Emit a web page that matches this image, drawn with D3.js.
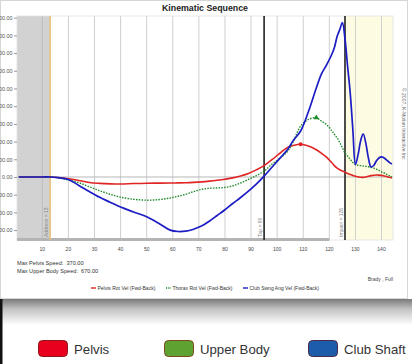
<!DOCTYPE html>
<html><head><meta charset="utf-8">
<script src="https://cdn.jsdelivr.net/npm/d3@7"></script>
<style>body{margin:0;background:#fff;} svg{display:block;font-family:"Liberation Sans",Arial,sans-serif;}</style>
</head><body><svg id="c" width="412" height="364"></svg>
<script>
const frames = [1,5,10,13,16,20,24,28,32,36,40,45,50,55,59,62,65,68,71,74,77,80,83,86,89,92,95,98,101,104,106,109,112,115,117,119,121,122,123,124,125,126,127,128,129,130,131,132,133,134,135,136,137,138,139,140,141,142,143,144];
const pelvis = [0,0,0,0,-5,-20,-40,-62,-72,-78,-80,-74,-70,-69,-68,-67,-65,-61,-55,-47,-37,-25,-10,12,40,80,128,195,268,335,355,370,350,308,268,222,160,125,100,82,68,55,40,28,18,8,2,-3,-4,0,8,15,20,22,21,18,12,5,-3,-10];
const thorax = [0,0,0,0,-8,-35,-65,-110,-155,-195,-228,-252,-262,-255,-237,-218,-195,-165,-140,-128,-124,-118,-100,-68,-28,15,65,145,210,290,390,575,650,670,630,590,520,480,440,390,330,271,235,200,165,140,132,128,124,120,115,110,100,90,75,58,45,30,15,2];
const club = [0,0,0,0,-8,-28,-95,-165,-230,-285,-340,-395,-450,-530,-600,-616,-612,-590,-555,-500,-435,-370,-300,-232,-160,-80,10,110,210,310,405,520,740,1005,1165,1270,1390,1470,1590,1665,1745,1560,1250,950,540,140,250,410,486,380,210,113,130,180,215,228,215,190,165,147];
const yTicks = [-600,-400,-200,0,200,400,600,800,1000,1200,1400,1600,1800];
const xTicks = [10,20,30,40,50,60,70,80,90,100,110,120,130,140];
const eventNames = ["Address","Top","Impact"];
const eventFrames = [13,95,126];
const statLabels = ["Max Pelvis Speed:","Max Upper Body Speed:"];
const statValues = [370,670];
const seriesNames = ["Pelvis Rot Vel (Fwd-Back)","Thorax Rot Vel (Fwd-Back)","Club Swng Ang Vel (Fwd-Back)"];
const bottomLegend = ["Pelvis","Upper Body","Club Shaft"];

const svg = d3.select("#c");
const L=17, R=393, T=16, B=240;
const x = d3.scaleLinear().domain([0.3,144.4]).range([L,R]);
const y = d3.scaleLinear().domain([-712,1819]).range([B,T]);

// panel
svg.append("rect").attr("x",0.5).attr("y",0.5).attr("width",407).attr("height",298).attr("fill","#fff").attr("stroke","#d6d6d6");
const defs = svg.append("defs");
const g1 = defs.append("linearGradient").attr("id","sh").attr("x1",0).attr("y1",0).attr("x2",0).attr("y2",1);
g1.append("stop").attr("offset","0%").attr("stop-color","#7a7a7a");
g1.append("stop").attr("offset","40%").attr("stop-color","#c4c4c4");
g1.append("stop").attr("offset","100%").attr("stop-color","#ffffff");
svg.append("rect").attr("x",0).attr("y",299).attr("width",412).attr("height",26).attr("fill","url(#sh)");
svg.append("rect").attr("x",0).attr("y",299).attr("width",2.5).attr("height",65).attr("fill","#111");
defs.append("clipPath").attr("id","clip").append("rect").attr("x",L).attr("y",T).attr("width",R-L).attr("height",B-T);

// title
svg.append("text").attr("x",205).attr("y",10.5).attr("text-anchor","middle").attr("font-size",8.8).attr("font-weight","bold").attr("fill","#222").text("Kinematic Sequence");

// shaded regions
svg.append("rect").attr("x",L).attr("y",T).attr("width",x(eventFrames[0])-L).attr("height",B-T).attr("fill","#d2d2d2");
svg.append("rect").attr("x",x(eventFrames[2])).attr("y",T).attr("width",R-x(eventFrames[2])).attr("height",B-T).attr("fill","#fdfbe2");

// grid
svg.append("g").selectAll("line").data(xTicks).join("line")
  .attr("x1",d=>x(d)).attr("x2",d=>x(d)).attr("y1",T).attr("y2",B)
  .attr("stroke",(d)=>d<eventFrames[0]?"#bdbdbd":"#cfcfcf").attr("stroke-width",1);
svg.append("line").attr("x1",L).attr("x2",R).attr("y1",y(0)).attr("y2",y(0)).attr("stroke","#b8b8b8");
// plot border
svg.append("rect").attr("x",L).attr("y",T).attr("width",R-L).attr("height",B-T).attr("fill","none").attr("stroke","#e0e0e0").attr("stroke-width",0.8);
svg.append("rect").attr("x",L).attr("y",B-2).attr("width",x(120)-L).attr("height",3).attr("fill","#b4b4b4");

// y axis
const ya = svg.append("g").attr("transform",`translate(${L},0)`).call(d3.axisLeft(y).tickValues(yTicks).tickFormat(d3.format(".2f")).tickSize(3));
ya.select(".domain").remove();
ya.selectAll("line").attr("stroke","#999");
ya.selectAll("text").attr("font-size",5.4).attr("fill","#555").attr("font-family","Liberation Sans, Arial").attr("dx",1.5);
// x axis labels
svg.append("g").selectAll("text").data(xTicks).join("text")
  .attr("x",d=>x(d)).attr("y",251).attr("text-anchor","middle").attr("font-size",5).attr("fill","#444").text(d=>d);

// event lines
const evColors = ["#e8c27a","#222","#222"];
const evWidths = [1.6,1.6,1.6];
eventFrames.forEach((f,i)=>{
  svg.append("line").attr("x1",x(f)).attr("x2",x(f)).attr("y1",T).attr("y2",B).attr("stroke",evColors[i]).attr("stroke-width",evWidths[i]);
  svg.append("text").attr("transform",`translate(${x(f)-2},${B-3}) rotate(-90)`).attr("font-size",5).attr("fill","#888").text(`${eventNames[i]} = ${f}`);
});

// series
const line = d3.line().x((d,i)=>x(frames[i])).y(d=>y(d)).curve(d3.curveCatmullRom.alpha(0.5));
const pg = svg.append("g").attr("clip-path","url(#clip)");
pg.append("path").attr("d",line(pelvis)).attr("fill","none").attr("stroke","#e02424").attr("stroke-width",1.6);
pg.append("path").attr("d",line(thorax)).attr("fill","none").attr("stroke","#1f8a2a").attr("stroke-width",1.4).attr("stroke-dasharray","1.5,1.3");
pg.append("path").attr("d",line(club)).attr("fill","none").attr("stroke","#1c1cc4").attr("stroke-width",1.7);
// peak markers
const pi = d3.maxIndex(pelvis), ti = d3.maxIndex(thorax);
svg.append("circle").attr("cx",x(frames[pi])).attr("cy",y(pelvis[pi])).attr("r",2).attr("fill","#e02424");
svg.append("path").attr("d",d3.symbol(d3.symbolTriangle,14)()).attr("transform",`translate(${x(frames[ti])},${y(thorax[ti])})`).attr("fill","#1f8a2a");

// stats
statLabels.forEach((s,i)=>{
  svg.append("text").attr("x",17).attr("y",265+i*8).attr("font-size",5.6).attr("fill","#333").attr("xml:space","preserve").text(`${s}  ${statValues[i].toFixed(2)}`);
});
svg.append("text").attr("x",393).attr("y",281).attr("text-anchor","end").attr("font-size",5).attr("fill","#444").text("Brady , Full");

// copyright
svg.append("text").attr("transform","translate(401.5,88) rotate(90)").attr("font-size",5).attr("fill","#666").text("© 2007, K-Motion Interactive Inc");

// inner legend
const lgX = [91,166,243];
const lgCol = ["#e02424","#1f8a2a","#1c1cc4"];
seriesNames.forEach((n,i)=>{
  svg.append("line").attr("x1",lgX[i]).attr("x2",lgX[i]+5).attr("y1",288).attr("y2",288).attr("stroke",lgCol[i]).attr("stroke-width",1.4).attr("stroke-dasharray",i===1?"1.2,1":null);
  svg.append("text").attr("x",lgX[i]+6.5).attr("y",289.8).attr("font-size",5).attr("fill","#333").text(n);
});

// bottom legend
const bx = [38,164,308];
const bFill = ["#e8001e","#5ea232","#1c5ca8"];
const bStroke = ["#8a1818","#7a4a1e","#4a2a4a"];
bottomLegend.forEach((n,i)=>{
  svg.append("rect").attr("x",bx[i]+0.5).attr("y",340.5).attr("width",29).attr("height",16).attr("rx",4).attr("fill",bFill[i]).attr("stroke",bStroke[i]).attr("stroke-width",1);
  svg.append("text").attr("x",bx[i]+36).attr("y",353.5).attr("font-size",13.2).attr("fill","#333").text(n);
});
</script></body></html>
